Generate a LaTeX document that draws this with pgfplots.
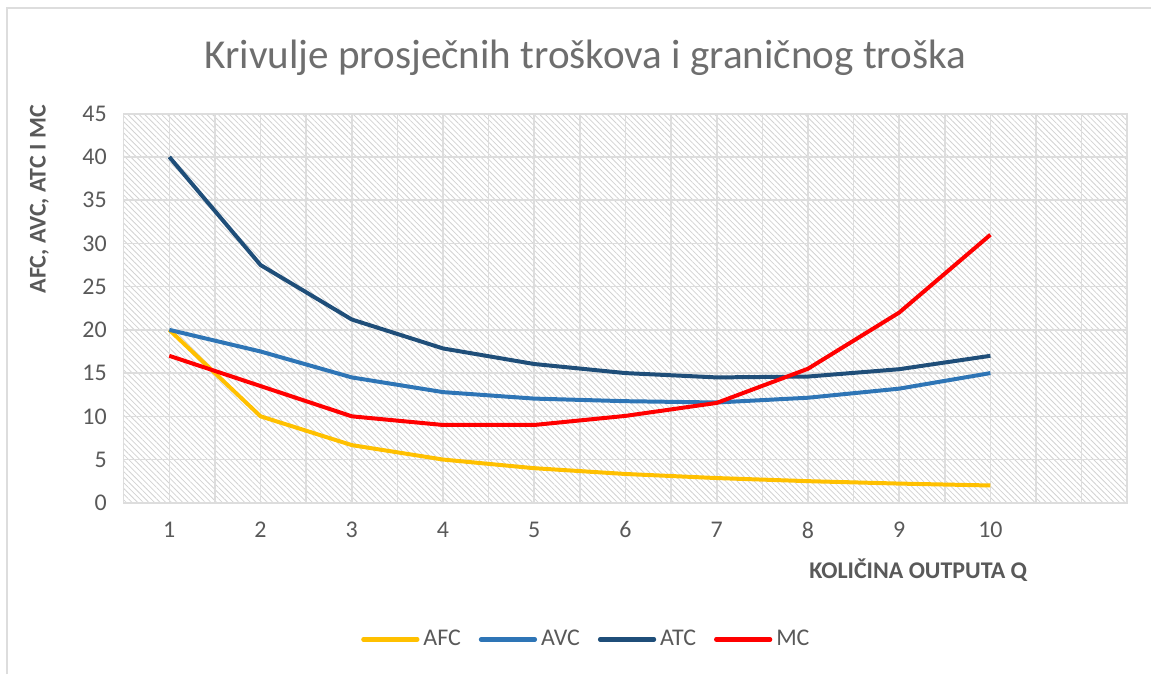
\documentclass[border=0pt]{standalone}
\usepackage{pgfplots}
\pgfplotsset{compat=1.18}
\usepackage{fontspec}
\setmainfont{Carlito}
\usetikzlibrary{patterns.meta}
\definecolor{afc}{HTML}{FFC000}
\definecolor{avc}{HTML}{2E75B6}
\definecolor{atc}{HTML}{1F4E79}
\definecolor{mc}{HTML}{FF0000}
\definecolor{txt}{HTML}{595959}
\definecolor{ttl}{HTML}{6E6E6E}
\definecolor{gridc}{HTML}{DDDDDD}
\definecolor{hatch}{HTML}{D2D2D2}
\begin{document}
\begin{tikzpicture}
\begin{axis}[
  at={(0,0)}, anchor=origin,
  scale only axis, width=503bp, height=195bp,
  xmin=0.5, xmax=11.5, ymin=0, ymax=45,
  xtick={1,...,11}, xticklabels={1,2,3,4,5,6,7,8,9,10,{}},
  minor xtick={0.5,1.5,...,11.5},
  ytick={0,5,...,45},
  /pgf/number format/assume math mode=true,
  grid=both,
  major grid style={gridc, line width=0.8bp},
  minor grid style={gridc, line width=0.8bp},
  major tick length=0pt, minor tick length=0pt,
  axis line style={gridc, line width=0.8bp},
  axis background/.style={pattern={Lines[angle=-45,distance=2bp,line width=0.4bp]}, pattern color=hatch},
  tick label style={font=\fontsize{12bp}{14bp}\selectfont, text=txt},
  xticklabel style={yshift=-6bp},
  yticklabel style={xshift=-5bp},
  ylabel={\textbf{AFC, AVC, ATC I MC}},
  ylabel style={font=\fontsize{12bp}{14bp}\selectfont, text=txt, at={(rel axis cs:0,0.78)}, anchor=south, yshift=34bp},
  xlabel={\textbf{KOLIČINA OUTPUTA Q}},
  xlabel style={font=\fontsize{12bp}{14bp}\selectfont, text=txt, at={(rel axis cs:0.792,0)}, anchor=center, yshift=-34bp},
  title={Krivulje prosječnih troškova i graničnog troška},
  title style={font=\fontsize{20.6bp}{24bp}\selectfont, text=ttl, at={(rel axis cs:0.46,1)}, anchor=center, yshift=22bp},
  legend columns=4,
  legend style={at={(rel axis cs:0.462,0)}, anchor=center, yshift=-68.5bp, draw=none, fill=none,
    font=\fontsize{12bp}{14bp}\selectfont, text=txt,
    /tikz/every even column/.append style={column sep=7bp}},
  legend image code/.code={\draw[#1, line width=2.2bp, line cap=round] (0bp,0bp) -- (27bp,0bp);},
  every axis plot/.append style={line width=2bp, line join=round},
]
\addplot[afc] coordinates {(1,20) (2,10) (3,6.67) (4,5) (5,4) (6,3.33) (7,2.86) (8,2.5) (9,2.22) (10,2)};
\addlegendentry{AFC}
\addplot[avc] coordinates {(1,20) (2,17.5) (3,14.5) (4,12.8) (5,12.05) (6,11.75) (7,11.6) (8,12.15) (9,13.2) (10,15)};
\addlegendentry{AVC}
\addplot[atc] coordinates {(1,40) (2,27.5) (3,21.2) (4,17.85) (5,16.05) (6,15) (7,14.5) (8,14.6) (9,15.45) (10,17)};
\addlegendentry{ATC}
\addplot[mc] coordinates {(1,17) (2,13.5) (3,10) (4,9) (5,9) (6,10.05) (7,11.55) (8,15.5) (9,22) (10,31)};
\addlegendentry{MC}
\end{axis}
\draw[gridc, line width=0.8bp] (-58.5bp,-86bp) -- (-58.5bp,248bp) -- (515bp,248bp);
\useasboundingbox (-62bp,-85.5bp) rectangle (514bp,252bp);
\end{tikzpicture}
\end{document}
